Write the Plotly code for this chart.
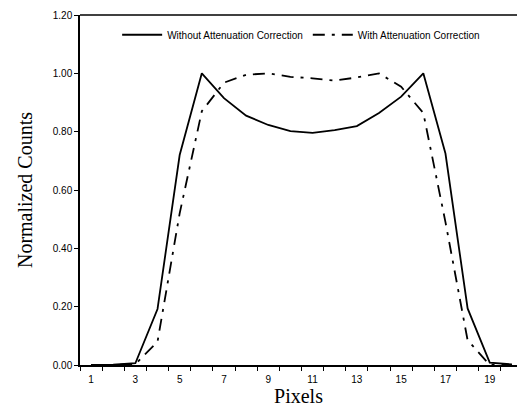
import plotly.graph_objects as go

pixels = list(range(1, 21))
without_corr = [0.0, 0.001, 0.006, 0.192, 0.72, 1.0, 0.915, 0.855, 0.823, 0.802,
                0.796, 0.805, 0.819, 0.864, 0.92, 1.0, 0.725, 0.194, 0.008, 0.002]
with_corr = [0.0, 0.0, 0.003, 0.08, 0.52, 0.87, 0.968, 0.995, 1.0, 0.988,
             0.983, 0.975, 0.986, 1.0, 0.954, 0.864, 0.49, 0.085, 0.0, 0.0]
x_tick_vals = [1, 3, 5, 7, 9, 11, 13, 15, 17, 19]
y_tick_vals = [0.0, 0.2, 0.4, 0.6, 0.8, 1.0, 1.2]

fig = go.Figure()
fig.add_trace(go.Scatter(x=pixels, y=without_corr, mode="lines",
                         name="Without Attenuation Correction",
                         line=dict(color="black", width=1.8)))
fig.add_trace(go.Scatter(x=pixels, y=with_corr, mode="lines",
                         name="With Attenuation Correction",
                         line=dict(color="black", width=1.8, dash="12px,7px,3px,7px")))

fig.update_layout(
    width=517, height=407,
    margin=dict(l=80, r=0, t=15, b=42),
    paper_bgcolor="white", plot_bgcolor="white",
    font=dict(family="Liberation Sans, Arial", size=10, color="black"),
    showlegend=True,
    legend=dict(orientation="h", x=0.085, y=0.985, xanchor="left", yanchor="top",
                bgcolor="rgba(0,0,0,0)", font=dict(size=10), itemwidth=40,
                tracegroupgap=0),
    xaxis=dict(range=[0.5, 20.23], tickmode="array", tickvals=x_tick_vals,
               ticks="", showgrid=False, zeroline=False,
               showline=True, linecolor="black", linewidth=2,
               minor=dict(tickmode="array",
                          tickvals=[v + 0.5 for v in range(0, 21)],
                          ticks="outside", ticklen=4, tickcolor="black",
                          showgrid=False),
               title=dict(text="Pixels",
                          font=dict(family="Liberation Serif, Times New Roman", size=20),
                          standoff=2),
               ticklabelstandoff=4),
    yaxis=dict(range=[0, 1.2], tickmode="array", tickvals=y_tick_vals,
               tickformat=".2f", ticks="outside", ticklen=4, tickcolor="black",
               showgrid=False, zeroline=False,
               showline=True, linecolor="black", linewidth=1.5,
               title=dict(text="Normalized Counts",
                          font=dict(family="Liberation Serif, Times New Roman", size=20),
                          standoff=15)),
    shapes=[dict(type="line", xref="paper", yref="paper", x0=0, x1=1, y0=1, y1=1,
                 line=dict(color="black", width=1.5))],
)

fig.write_html("out.html")
